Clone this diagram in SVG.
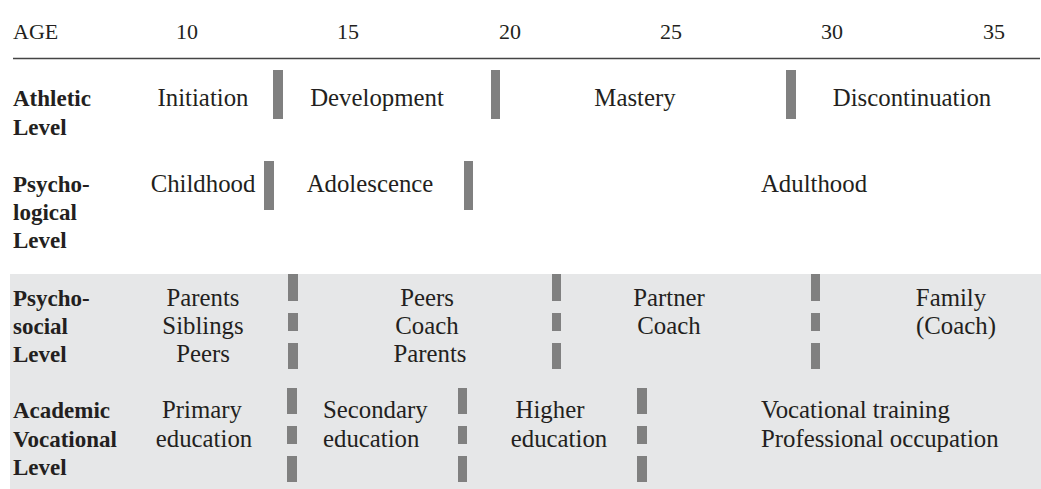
<svg xmlns="http://www.w3.org/2000/svg" width="1041" height="489" viewBox="0 0 1041 489">
<style>
text{font-family:"Liberation Serif","Times New Roman",serif;fill:#231f20}
.h{font-size:22px}
.l{font-size:23px;font-weight:bold}
.t{font-size:24.8px}
.c{text-anchor:middle}
.bar{fill:#808080}
</style>
<rect x="10" y="274" width="1031" height="215" fill="#e6e7e8"/>
<g id="header">
<text class="h" x="13" y="39">AGE</text>
<text class="h c" x="187" y="39">10</text>
<text class="h c" x="348" y="39">15</text>
<text class="h c" x="510" y="39">20</text>
<text class="h c" x="671" y="39">25</text>
<text class="h c" x="832" y="39">30</text>
<text class="h c" x="994" y="39">35</text>
<line x1="13" y1="58.5" x2="1040" y2="58.5" stroke="#444" stroke-width="1.5"/>
</g>
<g id="athletic">
<text class="l" x="13" y="106">Athletic</text>
<text class="l" x="13" y="135">Level</text>
<text class="t c" x="203" y="106">Initiation</text>
<text class="t c" x="377" y="106">Development</text>
<text class="t c" x="635" y="106">Mastery</text>
<text class="t c" x="912" y="106">Discontinuation</text>
<rect class="bar" x="273" y="70" width="10" height="49"/>
<rect class="bar" x="491" y="70" width="9" height="49"/>
<rect class="bar" x="786" y="70" width="10" height="49"/>
</g>
<g id="psychological">
<text class="l" x="13" y="192">Psycho-</text>
<text class="l" x="13" y="220">logical</text>
<text class="l" x="13" y="248">Level</text>
<text class="t c" x="203" y="192">Childhood</text>
<text class="t c" x="370" y="192">Adolescence</text>
<text class="t c" x="814" y="192">Adulthood</text>
<rect class="bar" x="264" y="161" width="10" height="49"/>
<rect class="bar" x="464" y="161" width="9" height="49"/>
</g>
<g id="psychosocial">
<text class="l" x="13" y="306">Psycho-</text>
<text class="l" x="13" y="334">social</text>
<text class="l" x="13" y="362">Level</text>
<text class="t c" x="203" y="306">Parents</text>
<text class="t c" x="203" y="334">Siblings</text>
<text class="t c" x="203" y="362">Peers</text>
<text class="t c" x="427" y="306">Peers</text>
<text class="t c" x="427" y="334">Coach</text>
<text class="t c" x="430" y="362">Parents</text>
<text class="t c" x="669" y="306">Partner</text>
<text class="t c" x="669" y="334">Coach</text>
<text class="t c" x="951" y="306">Family</text>
<text class="t c" x="956" y="334">(Coach)</text>
<rect class="bar" x="288" y="274" width="10" height="27"/>
<rect class="bar" x="288" y="313" width="10" height="18"/>
<rect class="bar" x="288" y="343" width="10" height="26"/>
<rect class="bar" x="552" y="274" width="9" height="27"/>
<rect class="bar" x="552" y="313" width="9" height="18"/>
<rect class="bar" x="552" y="343" width="9" height="26"/>
<rect class="bar" x="811" y="274" width="9" height="27"/>
<rect class="bar" x="811" y="313" width="9" height="18"/>
<rect class="bar" x="811" y="343" width="9" height="26"/>
</g>
<g id="academic">
<text class="l" x="13" y="418">Academic</text>
<text class="l" x="13" y="447">Vocational</text>
<text class="l" x="13" y="475">Level</text>
<text class="t c" x="202" y="418">Primary</text>
<text class="t c" x="204" y="447">education</text>
<text class="t" x="323" y="418">Secondary</text>
<text class="t" x="323" y="447">education</text>
<text class="t c" x="550" y="418">Higher</text>
<text class="t c" x="559" y="447">education</text>
<text class="t" x="761" y="418">Vocational training</text>
<text class="t" x="761" y="447">Professional occupation</text>
<rect class="bar" x="287" y="388" width="10" height="26"/>
<rect class="bar" x="287" y="426" width="10" height="18"/>
<rect class="bar" x="287" y="456" width="10" height="26"/>
<rect class="bar" x="458" y="388" width="9" height="26"/>
<rect class="bar" x="458" y="426" width="9" height="18"/>
<rect class="bar" x="458" y="456" width="9" height="26"/>
<rect class="bar" x="637" y="388" width="10" height="26"/>
<rect class="bar" x="637" y="426" width="10" height="18"/>
<rect class="bar" x="637" y="456" width="10" height="26"/>
</g>
</svg>
